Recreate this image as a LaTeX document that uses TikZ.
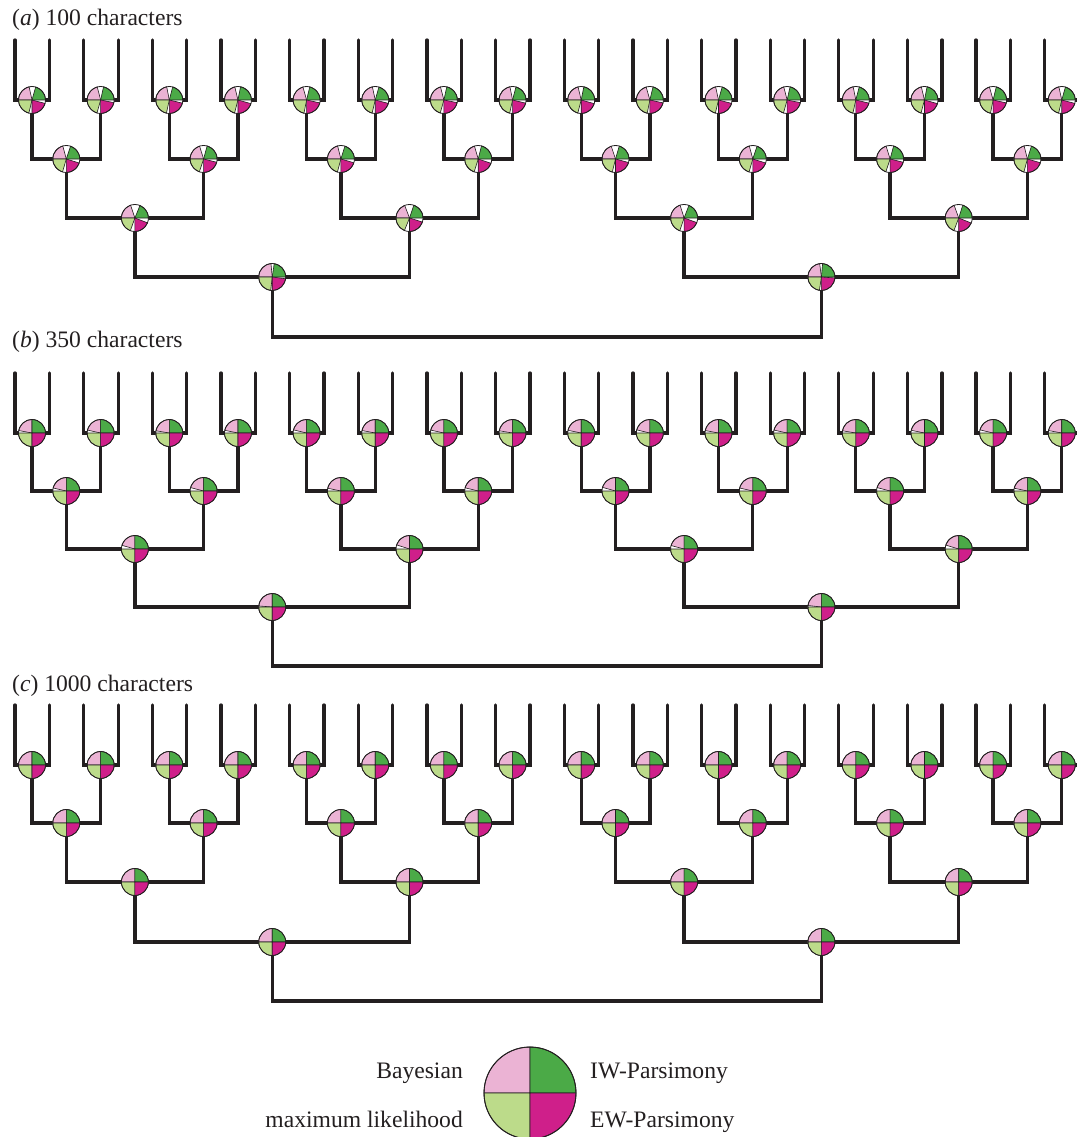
\documentclass[tikz,border=0pt]{standalone}
\usepackage{fontspec}
\setmainfont{Liberation Serif}
\definecolor{cpink}{HTML}{EBB3D4}
\definecolor{cgreen}{HTML}{4BAA47}
\definecolor{clgreen}{HTML}{BCDB8A}
\definecolor{cmag}{HTML}{CF1F8A}
\definecolor{cline}{HTML}{231F20}
\tikzset{
  tree/.style={line width=3.3pt, draw=cline, line cap=round},
  wedgeline/.style={draw=cline, line width=0.6pt, line join=round},
  pieline/.style={draw=cline, line width=0.8pt},
  lbl/.style={font=\fontsize{23.6}{27}\selectfont, inner sep=0pt, text=cline},
}
\def\pr{13.5pt}
\newcommand\wdg[4]{%
  \filldraw[fill=#2, wedgeline] (#1) -- ++(#3:\pr) arc[start angle=#3, end angle=#4, radius=\pr] -- cycle;}
\newcommand\piechart[9]{%
  \fill[white] (#1) circle[radius=\pr];
  \wdg{#1}{cpink}{#2}{#3}%
  \wdg{#1}{cgreen}{#4}{#5}%
  \wdg{#1}{clgreen}{#6}{#7}%
  \wdg{#1}{cmag}{#8}{#9}%
  \draw[pieline] (#1) circle[radius=\pr];}
\newcommand\treepie[3]{%
  \pgfmathsetmacro\fP{1-\amp*(#2+0.05*(mod(#3*7+1,5)/4-0.5))}%
  \pgfmathsetmacro\fG{1-\amp*\ob*(#2+0.05*(mod(#3*7+4,5)/4-0.5))}%
  \pgfmathsetmacro\fL{1-\amp*\ob*(#2+0.05*(mod(#3*7+2,5)/4-0.5))}%
  \pgfmathsetmacro\fM{1-\amp*\ob*(#2+0.05*(mod(#3*7+3,5)/4-0.5))}%
  \pgfmathsetmacro\pE{\ps+\pd*90*\fP}%
  \pgfmathsetmacro\gE{90*\fG}%
  \pgfmathsetmacro\lE{180+90*\fL}%
  \pgfmathsetmacro\mE{270+90*\fM}%
  \piechart{#1}{\ps}{\pE}{0}{\gE}{180}{\lE}{270}{\mE}}
\begin{document}
\begin{tikzpicture}[x=1pt,y=-1pt]
\useasboundingbox (0,0) rectangle (1076,1137);
\foreach \p/\tt/\la/\lb/\lc/\ld/\le/\lby/\nch/\ps/\pd/\amp/\ob in
  {a/40/100/159/218/277/337/26/100/180/-1/1/1,
   b/373/433/491/549/607/666/347/350/90/1/0.85/0,
   c/705/765/823/882/942/1001/691/1000/90/1/0/0}{
  \node[lbl, anchor=base west] (lab-\p) at (12,\lby) {(\textit{\p}) \nch\ characters};
  % level 1 with tips
  \foreach \i in {0,...,15}{
    \coordinate (\p1-\i) at ({32+68.65*\i},\la);
    \coordinate (\p t-\i-l) at ({15+68.65*\i},\tt);
    \coordinate (\p t-\i-r) at ({49.5+68.65*\i},\tt);
    \draw[tree] (\p t-\i-l) |- (\p1-\i) -| (\p t-\i-r);
  }
  \foreach \j in {0,...,7}{
    \pgfmathtruncatemacro\ja{2*\j}\pgfmathtruncatemacro\jb{2*\j+1}
    \coordinate (\p2-\j) at ({66.3+137.3*\j},\lb);
    \draw[tree] (\p1-\ja) |- (\p2-\j) -| (\p1-\jb);
  }
  \foreach \k in {0,...,3}{
    \pgfmathtruncatemacro\ka{2*\k}\pgfmathtruncatemacro\kb{2*\k+1}
    \coordinate (\p3-\k) at ({134.9+274.6*\k},\lc);
    \draw[tree] (\p2-\ka) |- (\p3-\k) -| (\p2-\kb);
  }
  \foreach \m in {0,1}{
    \pgfmathtruncatemacro\ma{2*\m}\pgfmathtruncatemacro\mb{2*\m+1}
    \coordinate (\p4-\m) at ({272.2+549.2*\m},\ld);
    \draw[tree] (\p3-\ma) |- (\p4-\m) -| (\p3-\mb);
  }
  \coordinate (\p5) at (546.8,\le);
  \draw[tree] (\p4-0) |- (\p5) -| (\p4-1);
  % pies
  \foreach \i in {0,...,15}{\treepie{\p1-\i}{0.15}{\i}}
  \foreach \j in {0,...,7}{\treepie{\p2-\j}{0.18}{\j}}
  \foreach \k in {0,...,3}{\treepie{\p3-\k}{0.22}{\k}}
  \foreach \m in {0,1}{\treepie{\p4-\m}{0.07}{\m}}
}
% legend
\coordinate (leg) at (530,1093);
\begin{scope}[wedgeline/.style={draw=cline, line width=0.9pt, line join=round}]
\def\pr{46pt}
\piechart{leg}{90}{180}{0}{90}{180}{270}{270}{360}
\end{scope}
\node[lbl, anchor=base east] (lbay) at (463,1078) {Bayesian};
\node[lbl, anchor=base east] (lml) at (463,1127) {maximum likelihood};
\node[lbl, anchor=base west] (liw) at (590,1078) {IW-Parsimony};
\node[lbl, anchor=base west] (lew) at (590,1127) {EW-Parsimony};
\end{tikzpicture}
\end{document}
